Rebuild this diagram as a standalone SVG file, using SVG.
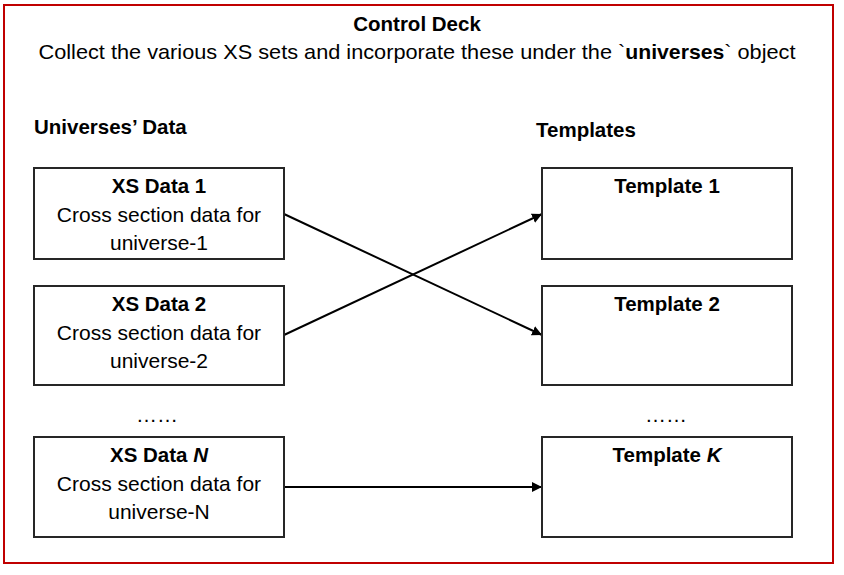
<svg xmlns="http://www.w3.org/2000/svg" width="844" height="575" viewBox="0 0 844 575">
<defs>
<style>
text{font-family:"Liberation Sans",Arial,sans-serif;font-size:21px;fill:#000}
.b{font-weight:bold;font-size:20.5px}
.c{text-anchor:middle}
.box{fill:#fff;stroke:#262626;stroke-width:2}
.conn{stroke:#000;stroke-width:2;fill:none;marker-end:url(#ah)}
</style>
<marker id="ah" viewBox="0 0 10 10" refX="10" refY="5" markerWidth="5" markerHeight="5" orient="auto" markerUnits="strokeWidth">
<path d="M0,0 L10,5 L0,10 z" fill="#000"/>
</marker>
</defs>
<rect x="4" y="5" width="829" height="558" fill="#fff" stroke="#c00000" stroke-width="2"/>
<g id="header">
<text class="b c" x="417" y="31">Control Deck</text>
<text class="c" x="417" y="59" textLength="757" lengthAdjust="spacingAndGlyphs">Collect the various XS sets and incorporate these under the `<tspan class="b">universes</tspan>` object</text>
<text class="b" x="34" y="134">Universes’ Data</text>
<text class="b" x="536" y="137">Templates</text>
<text x="157" y="422" class="c">……</text>
<text x="666" y="422" class="c">……</text>
</g>
<g id="connectors">
<line class="conn" x1="284" y1="214" x2="542" y2="335"/>
<line class="conn" x1="284" y1="335" x2="542" y2="214"/>
<line class="conn" x1="284" y1="487" x2="542" y2="487"/>
</g>
<g id="xs1">
<rect class="box" x="34" y="168" width="250" height="91"/>
<text class="b c" x="159" y="193">XS Data 1</text>
<text class="c" x="159" y="222">Cross section data for</text>
<text class="c" x="159" y="250">universe-1</text>
</g>
<g id="xs2">
<rect class="box" x="34" y="286" width="250" height="99"/>
<text class="b c" x="159" y="311">XS Data 2</text>
<text class="c" x="159" y="340">Cross section data for</text>
<text class="c" x="159" y="368">universe-2</text>
</g>
<g id="xsN">
<rect class="box" x="34" y="437" width="250" height="100"/>
<text class="b c" x="159" y="462">XS Data <tspan font-style="italic">N</tspan></text>
<text class="c" x="159" y="491">Cross section data for</text>
<text class="c" x="159" y="519">universe-N</text>
</g>
<g id="t1">
<rect class="box" x="542" y="168" width="250" height="91"/>
<text class="b c" x="667" y="193">Template 1</text>
</g>
<g id="t2">
<rect class="box" x="542" y="286" width="250" height="99"/>
<text class="b c" x="667" y="311">Template 2</text>
</g>
<g id="tK">
<rect class="box" x="542" y="437" width="250" height="100"/>
<text class="b c" x="667" y="462">Template <tspan font-style="italic">K</tspan></text>
</g>
</svg>
